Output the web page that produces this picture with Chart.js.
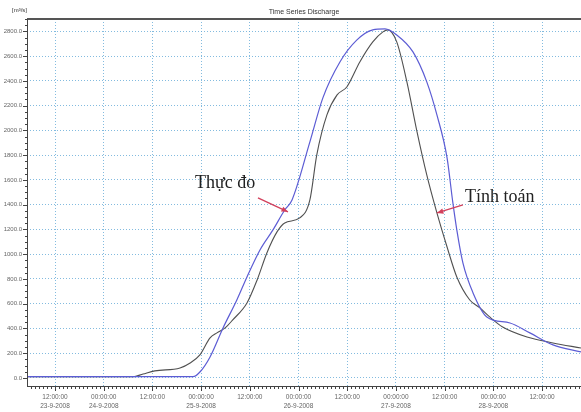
<!DOCTYPE html>
<html>
<head>
<meta charset="utf-8">
<title>Time Series Discharge</title>
<script src="https://cdn.jsdelivr.net/npm/chart.js@4/dist/chart.umd.min.js"></script>
<style>
  html, body { margin: 0; padding: 0; background: #fff; }
</style>
</head>
<body>
<canvas id="discharge" width="581" height="412"></canvas>
<script>
// time axis in hours counted from 23-9-2008 00:00:00
const measuredHours = [5.1, 46.0, 47.7, 50.2, 53.4, 56.8, 59.3, 62.5, 65.7, 68.6, 70.4, 74.8, 78.0, 82.2, 86.4, 90.3, 93.3, 96.2, 100.2, 103.6, 106.1, 108.6, 110.0, 111.0, 112.5, 115.0, 118.4, 124.1, 129.0, 134.7, 141.6];
const measuredFlow  = [10, 10, 48, 170, 404, 630, 816, 1034, 1196, 1357, 1438, 1907, 2263, 2553, 2731, 2812, 2820, 2771, 2634, 2392, 2125, 1778, 1422, 1196, 929, 687, 493, 444, 364, 267, 210];

const computedHours = [5.1, 31.2, 33.7, 36.6, 42.8, 45.3, 47.7, 50.2, 51.9, 53.9, 55.8, 59.3, 61.8, 64.2, 66.7, 68.6, 72.3, 74.8, 76.5, 79.0, 81.5, 83.9, 87.1, 90.3, 92.8, 94.0, 96.2, 98.7, 101.2, 103.6, 106.1, 108.6, 111.0, 114.2, 116.7, 119.1, 122.3, 128.3, 134.7, 141.6];
const computedFlow  = [10, 10, 32, 57, 81, 121, 186, 323, 364, 404, 469, 606, 792, 1010, 1180, 1252, 1293, 1438, 1802, 2125, 2287, 2351, 2553, 2715, 2796, 2812, 2715, 2392, 1988, 1640, 1333, 1058, 816, 630, 566, 493, 412, 331, 283, 242];

const tickHours = [12, 24, 36, 48, 60, 72, 84, 96, 108, 120, 132];
const tickTimes = ['12:00:00', '00:00:00', '12:00:00', '00:00:00', '12:00:00', '00:00:00', '12:00:00', '00:00:00', '12:00:00', '00:00:00', '12:00:00'];
const tickDates = ['23-9-2008', '24-9-2008', '', '25-9-2008', '', '26-9-2008', '', '27-9-2008', '', '28-9-2008', ''];
const flowTicks = [0, 200, 400, 600, 800, 1000, 1200, 1400, 1600, 1800, 2000, 2200, 2400, 2600, 2800];

// callouts: label, hour and flow of the point the arrow touches
const noteLabels = ['Thực đo', 'Tính toán'];
const noteHours = [69.4, 106.1];
const noteFlows = [1342, 1333];

const toPoints = (xs, ys) => xs.map((x, i) => ({ x: x, y: ys[i] }));

const frame = {
  id: 'frame',
  afterDraw(chart) {
    const ctx = chart.ctx;
    const a = chart.chartArea;
    const sx = chart.scales.x, sy = chart.scales.y;
    ctx.save();

    // frame: thick top edge, left and bottom axis lines
    ctx.strokeStyle = '#555';
    ctx.lineWidth = 2;
    ctx.beginPath();
    ctx.moveTo(a.left, a.top);
    ctx.lineTo(a.right, a.top);
    ctx.stroke();
    ctx.strokeStyle = '#444';
    ctx.lineWidth = 1;
    ctx.beginPath();
    ctx.moveTo(a.left + 0.5, a.top);
    ctx.lineTo(a.left + 0.5, a.bottom);
    ctx.moveTo(a.left, a.bottom + 0.5);
    ctx.lineTo(a.right, a.bottom + 0.5);
    ctx.stroke();

    // axis ticks, minor every hour / every 50 m3/s
    ctx.beginPath();
    for (let h = Math.ceil(sx.min); h <= sx.max; h++) {
      const px = Math.round(sx.getPixelForValue(h)) + 0.5;
      const len = h % 12 === 0 ? 5 : 3;
      ctx.moveTo(px, a.bottom);
      ctx.lineTo(px, a.bottom + len);
    }
    for (let q = 0; q <= sy.max; q += 50) {
      const py = Math.round(sy.getPixelForValue(q)) + 0.5;
      const len = q % 200 === 0 ? 4 : 2;
      ctx.moveTo(a.left, py);
      ctx.lineTo(a.left - len, py);
    }
    ctx.stroke();

    // title and unit
    ctx.fillStyle = '#333';
    ctx.font = '7px "Liberation Sans", Arial, sans-serif';
    ctx.textAlign = 'center';
    ctx.textBaseline = 'middle';
    ctx.fillText('Time Series Discharge', (a.left + a.right) / 2, 12);
    ctx.textAlign = 'left';
    ctx.font = '6px "Liberation Sans", Arial, sans-serif';
    ctx.fillText('[m³/s]', 12, 10);

    // callouts with arrows
    ctx.font = '18px "Liberation Serif", "Times New Roman", serif';
    ctx.textBaseline = 'alphabetic';
    ctx.textAlign = 'left';
    noteLabels.forEach((label, i) => {
      const tx = sx.getPixelForValue(noteHours[i]);
      const ty = sy.getPixelForValue(noteFlows[i]);
      const left = i === 0;
      const bx = left ? tx - 30 : tx + 26;
      const by = left ? ty - 14 : ty - 8;
      ctx.strokeStyle = '#d2405c';
      ctx.fillStyle = '#d2405c';
      ctx.lineWidth = 1.3;
      ctx.beginPath();
      ctx.moveTo(bx, by);
      ctx.lineTo(tx, ty);
      ctx.stroke();
      const ang = Math.atan2(ty - by, tx - bx);
      ctx.beginPath();
      ctx.moveTo(tx, ty);
      ctx.lineTo(tx - 7 * Math.cos(ang - 0.4), ty - 7 * Math.sin(ang - 0.4));
      ctx.lineTo(tx - 7 * Math.cos(ang + 0.4), ty - 7 * Math.sin(ang + 0.4));
      ctx.closePath();
      ctx.fill();
      ctx.fillStyle = '#222';
      if (left) {
        ctx.fillText(label, tx - 93, ty - 24);
      } else {
        ctx.fillText(label, tx + 28, ty - 11);
      }
    });
    ctx.restore();
  }
};

const gridColor = 'rgba(100, 170, 215, 0.8)';

new Chart(document.getElementById('discharge'), {
  type: 'line',
  data: {
    datasets: [
      {
        label: 'Thực đo',
        data: toPoints(measuredHours, measuredFlow),
        borderColor: '#5c5cd4',
        borderWidth: 1.2,
        pointRadius: 0,
        cubicInterpolationMode: 'monotone',
        fill: false
      },
      {
        label: 'Tính toán',
        data: toPoints(computedHours, computedFlow),
        borderColor: '#505050',
        borderWidth: 1.1,
        pointRadius: 0,
        cubicInterpolationMode: 'monotone',
        fill: false
      }
    ]
  },
  options: {
    responsive: false,
    animation: false,
    layout: { padding: { top: 19, right: 0, bottom: 0, left: 0 } },
    plugins: {
      legend: { display: false },
      title: { display: false },
      tooltip: { enabled: false }
    },
    scales: {
      x: {
        type: 'linear',
        min: 5.1,
        max: 141.6,
        afterBuildTicks: (s) => { s.ticks = tickHours.map(v => ({ value: v })); },
        afterFit: (s) => { s.height = 26; },
        grid: { color: gridColor, drawTicks: false },
        border: { display: false, dash: [1, 2] },
        ticks: {
          autoSkip: false,
          maxRotation: 0,
          padding: 6,
          color: '#666',
          font: { size: 6.5, family: '"Liberation Sans", Arial, sans-serif', lineHeight: 1.5 },
          callback: (v, i) => tickDates[i] ? [tickTimes[i], tickDates[i]] : tickTimes[i]
        }
      },
      y: {
        min: -65,
        max: 2900,
        afterBuildTicks: (s) => { s.ticks = flowTicks.map(v => ({ value: v })); },
        afterFit: (s) => { s.width = 27; },
        grid: { color: gridColor, drawTicks: false },
        border: { display: false, dash: [1, 2] },
        ticks: {
          padding: 5,
          color: '#666',
          font: { size: 6, family: '"Liberation Sans", Arial, sans-serif' },
          callback: (v) => Number(v).toFixed(1)
        }
      }
    }
  },
  plugins: [frame]
});
</script>
</body>
</html>
